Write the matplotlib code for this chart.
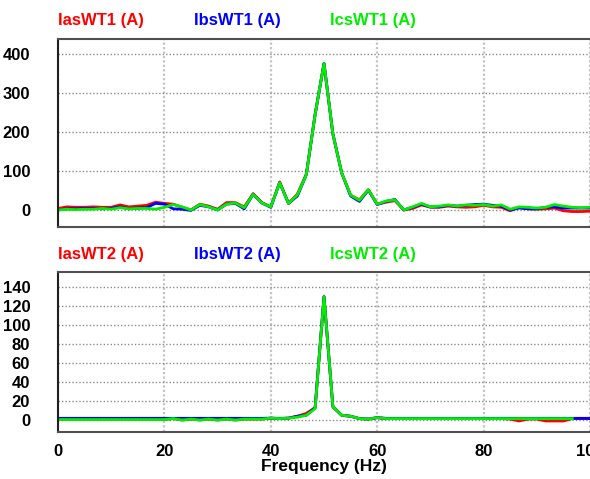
import matplotlib
matplotlib.use("Agg")
import matplotlib.pyplot as plt
import numpy as np

plt.rcParams['font.family'] = ['Liberation Sans', 'DejaVu Sans']

freq = [0.00, 1.67, 3.33, 5.00, 6.67, 8.33, 10.00, 11.67, 13.33, 15.00,
        16.67, 18.33, 20.00, 21.67, 23.33, 25.00, 26.67, 28.33, 30.00, 31.67,
        33.33, 35.00, 36.67, 38.33, 40.00, 41.67, 43.33, 45.00, 46.67, 48.33,
        50.00, 51.67, 53.33, 55.00, 56.67, 58.33, 60.00, 61.67, 63.33, 65.00,
        66.67, 68.33, 70.00, 71.67, 73.33, 75.00, 76.67, 78.33, 80.00, 81.67,
        83.33, 85.00, 86.67, 88.33, 90.00, 91.67, 93.33, 95.00, 96.67, 98.33,
        100.00]

ias_wt1 = [4, 8, 7, 7, 8, 7, 7, 13, 8, 10,
           12, 20, 17, 15, 7, 0, 15, 10, 2, 19,
           19, 8, 42, 19, 8, 72, 17, 41, 92, 245,
           376, 195, 95, 38, 26, 52, 15, 20, 24, 0,
           4, 13, 7, 7, 10, 8, 7, 8, 12, 8,
           7, -2, 7, 3, 2, 3, 5, -2, -4, -4,
           -3]
ibs_wt1 = [0, 3, 3, 4, 4, 3, 4, 8, 3, 5,
           6, 17, 15, 3, 2, -1, 12, 8, 0, 15,
           17, 3, 40, 18, 7, 70, 17, 36, 90, 245,
           376, 195, 95, 36, 22, 51, 14, 22, 27, 0,
           7, 15, 8, 8, 12, 10, 12, 14, 15, 12,
           10, 0, 5, 3, 3, 7, 8, 5, 5, 5,
           5]
ics_wt1 = [0, 2, 1, 2, 2, 4, 2, 6, 3, 4,
           4, 2, 7, 14, 8, 0, 14, 8, 0, 15,
           18, 6, 40, 18, 8, 70, 17, 39, 90, 245,
           376, 195, 95, 38, 25, 52, 15, 23, 26, 0,
           8, 17, 8, 10, 13, 10, 13, 12, 14, 10,
           13, 2, 8, 7, 5, 7, 14, 10, 7, 6,
           7]

ias_wt2 = [0.5, 0.5, 0.5, 0.5, 0.5, 0.5, 0.5, 0.5, 0.5, 0.5,
           0.5, 0.5, 0.5, 1.5, 0.0, 1.0, 0.0, 1.0, 0.0, 1.0,
           0.0, 1.0, 1.0, 1.0, 2.0, 1.5, 2.0, 4.0, 7.0, 13.0,
           130.0, 14.0, 5.0, 4.0, 1.5, 1.0, 2.5, 1.5, 1.5, 1.5,
           1.5, 1.5, 1.5, 1.5, 1.5, 1.5, 1.5, 1.5, 1.5, 1.5,
           1.5, 1.0, -1.0, 1.0, 1.0, -1.0, -1.0, -1.0, 1.5, 1.5,
           1.5]
ibs_wt2 = [1.8, 1.8, 1.8, 1.8, 1.8, 1.8, 1.8, 1.8, 1.8, 1.8,
           1.8, 1.8, 1.8, 1.8, 1.8, 1.8, 1.8, 1.8, 1.8, 1.8,
           1.8, 1.8, 1.8, 1.8, 2.0, 1.8, 2.0, 4.0, 5.0, 13.0,
           130.0, 14.0, 5.0, 4.0, 1.5, 1.0, 2.5, 1.8, 1.8, 1.8,
           1.8, 1.8, 1.8, 1.8, 1.8, 1.8, 1.8, 1.8, 1.8, 1.8,
           1.8, 1.8, 1.8, 1.8, 1.8, 1.8, 1.8, 1.8, 1.8, 1.8,
           1.8]
ics_wt2 = [0.5, 0.5, 0.5, 0.5, 0.5, 0.5, 0.5, 0.5, 0.5, 0.5,
           0.5, 0.5, 0.5, 1.5, 0.0, 1.0, 0.0, 1.0, 0.0, 1.0,
           0.0, 1.0, 1.0, 1.0, 2.0, 1.5, 2.0, 3.0, 5.0, 12.0,
           130.0, 14.0, 5.0, 4.0, 1.5, 1.0, 2.5, 1.5, 1.5, 1.5,
           1.5, 1.5, 1.5, 1.5, 1.5, 1.5, 1.5, 1.5, 1.5, 1.5,
           1.5, 1.5, 1.5, 1.5, 1.5, 1.5, 1.5, 1.5, 1.5, np.nan,
           np.nan]

top_labels = ["IasWT1 (A)", "IbsWT1 (A)", "IcsWT1 (A)"]
bot_labels = ["IasWT2 (A)", "IbsWT2 (A)", "IcsWT2 (A)"]
colors = ["#ff0000", "#0000ff", "#00ee00"]
top_yticks = [0, 100, 200, 300, 400]
bot_yticks = [0, 20, 40, 60, 80, 100, 120, 140]
xticks = [0, 20, 40, 60, 80, 100]

W, H = 590, 479
fig = plt.figure(figsize=(W / 100, H / 100), dpi=100)

def axes_px(left, top, right, bottom):
    return fig.add_axes([left / W, 1 - bottom / H, (right - left) / W, (bottom - top) / H])

ax1 = axes_px(58, 39, 590, 227)
ax2 = axes_px(58, 272, 590, 432)

def style(ax, ylim, yticks, show_x):
    ax.set_xlim(0, 100)
    ax.set_ylim(*ylim)
    ax.set_yticks(yticks)
    ax.set_xticks(xticks)
    ax.tick_params(axis='y', length=0, labelsize=12, pad=20)
    ax.tick_params(axis='x', length=0, labelsize=12, pad=9)
    for lab in ax.get_yticklabels() + ax.get_xticklabels():
        lab.set_fontweight('bold')
    if not show_x:
        ax.set_xticklabels([])
    ax.xaxis.grid(True, color='#c4c4c4', ls=(0, (1, 1)), lw=1.6)
    ax.yaxis.grid(True, color='#8c8c8c', ls=(0, (1, 1.5)), lw=1.0)
    ax.set_axisbelow(True)
    ax.spines['right'].set_visible(False)
    ax.spines['left'].set_color('#202020')
    ax.spines['left'].set_linewidth(1.5)
    ax.spines['top'].set_color('#505050')
    ax.spines['top'].set_linewidth(1.5)
    ax.spines['bottom'].set_color('#505050')
    ax.spines['bottom'].set_linewidth(1.5)

for series, c in zip([ias_wt1, ibs_wt1, ics_wt1], colors):
    ax1.plot(freq, series, color=c, lw=2.0, solid_joinstyle='round', clip_on=True)
for series, c in zip([ias_wt2, ibs_wt2, ics_wt2], colors):
    ax2.plot(freq, series, color=c, lw=2.0, solid_joinstyle='round', clip_on=True)

style(ax1, (-43.6, 438.5), top_yticks, False)
style(ax2, (-12.6, 155.8), bot_yticks, True)

ax2.set_xlabel("Frequency (Hz)", fontsize=12.5, fontweight='bold', va='center')
ax2.xaxis.set_label_coords(0.5, (432 - 467) / 160)

label_x = [58, 194, 330]
for lab, c, x in zip(top_labels, colors, label_x):
    fig.text(x / W, 1 - 21 / H, lab, color=c, fontsize=12, fontweight='bold', va='center', ha='left')
for lab, c, x in zip(bot_labels, colors, label_x):
    fig.text(x / W, 1 - 254 / H, lab, color=c, fontsize=12, fontweight='bold', va='center', ha='left')

fig.savefig("out.png", dpi=100, facecolor='white')
